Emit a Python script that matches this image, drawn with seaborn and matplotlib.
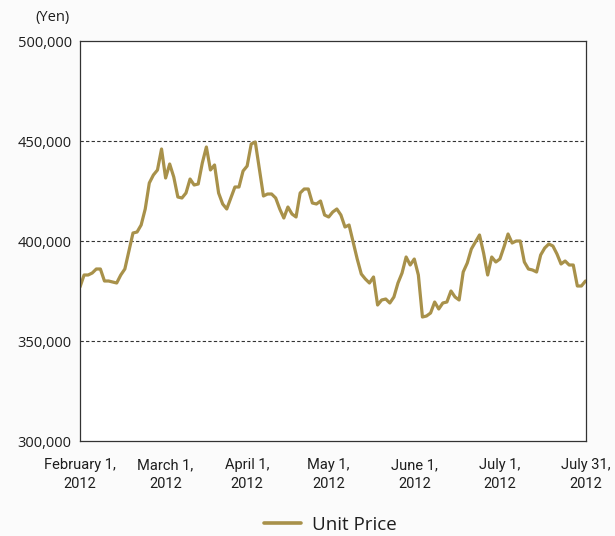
import matplotlib
matplotlib.use("Agg")
import matplotlib.pyplot as plt
import seaborn as sns
import pandas as pd
from matplotlib.ticker import FuncFormatter
from matplotlib.lines import Line2D

# Daily unit price (yen, thousands), trading days Feb 1 - Jul 31, 2012
unit_price_k = [
    377, 383, 383, 384, 386, 386, 380, 380, 379.5, 379,
    383, 386, 395, 404, 404.5, 408, 416, 429, 433, 435.5,
    446, 431.5, 438.5, 432, 422, 421.5, 424, 431, 428, 428.5,
    439, 447, 435.5, 438, 424, 418.5, 416, 421.5, 427, 427,
    435, 437.5, 448.5, 449.5, 436, 422.5, 423.5, 423.5, 421.5, 416,
    411.5, 417, 413.5, 412, 424, 426, 426, 419, 418.5, 420,
    413, 412, 414.5, 416, 413, 407, 408, 399.5, 391, 383.5,
    381, 379, 382, 368, 370.5, 371, 369, 372, 379, 384,
    392, 388, 391, 383, 362, 362.5, 364, 369.5, 366, 369,
    369.5, 375, 372, 370.5, 384.5, 389, 396, 399.5, 403, 394,
    383, 392, 389.5, 391, 397, 403.5, 399, 400, 400, 389.5,
    386, 385.5, 384.5, 393, 396.5, 398.5, 397.5, 393.5, 388.5, 390,
    388, 388, 377.5, 377.5, 380,
]
tick_day_index = [0, 21, 41, 61, 82, 103, 124]
tick_dates = ["February 1,", "March 1,", "April 1,", "May 1,", "June 1,", "July 1,", "July 31,"]
tick_years = ["2012"] * 7
y_ticks = [300000, 350000, 400000, 450000, 500000]
series_name = "Unit Price"

df = pd.DataFrame({
    "day": range(len(unit_price_k)),
    "price": [v * 1000 for v in unit_price_k],
    "series": series_name,
})

LINE = "#a8914a"
TXT = "#1e1e1e"

sns.set_theme(style="white")
plt.rcParams["font.family"] = ["Open Sans", "DejaVu Sans"]

fig = plt.figure(figsize=(6.15, 5.36), dpi=100, facecolor="#fbfbfb")
ax = fig.add_axes([80 / 615, 1 - 441 / 536, 505.5 / 615, 400 / 536])
ax.set_facecolor("white")

sns.lineplot(data=df, x="day", y="price", hue="series",
             palette=[LINE], linewidth=2.3, ax=ax, legend=False)

ax.set_xlim(0, len(unit_price_k) - 1)
ax.set_ylim(y_ticks[0], y_ticks[-1])
ax.set_yticks(y_ticks)
ax.yaxis.set_major_formatter(FuncFormatter(lambda v, p: f"{int(v):,}"))
ax.set_xticks(tick_day_index)
ax.set_xticklabels([""] * len(tick_day_index))
ax.tick_params(axis="x", direction="in", length=4, width=0.8, color="#222222")
ax.tick_params(axis="y", length=0, pad=6, labelsize=10.5, labelcolor=TXT)

narrow = ["Roboto", "Open Sans", "DejaVu Sans"]
for xi, d, yr in zip(tick_day_index, tick_dates, tick_years):
    ax.annotate(d, xy=(xi, 0), xycoords=("data", "axes fraction"),
                xytext=(0, -28 * 0.72), textcoords="offset points",
                ha="center", va="baseline", fontsize=10.5, color=TXT, family=narrow)
    ax.annotate(yr, xy=(xi, 0), xycoords=("data", "axes fraction"),
                xytext=(0, -47 * 0.72), textcoords="offset points",
                ha="center", va="baseline", fontsize=10.5, color=TXT, family=narrow)

for yv in y_ticks[1:-1]:
    ax.axhline(yv, color="#333333", linestyle=(0, (3, 2)), linewidth=0.8, zorder=0)

for s in ax.spines.values():
    s.set_visible(True)
    s.set_color("#333333")
    s.set_linewidth(0.9)

ax.set_xlabel("")
ax.set_ylabel("")
fig.text(70 / 615, 1 - 18 / 536, "(Yen)", ha="right", va="center", fontsize=10.5, color=TXT)

handle = Line2D([0], [0], color=LINE, linewidth=2.6)
fig.legend([handle], [series_name], loc="center", bbox_to_anchor=(0.537, 1 - 525 / 536),
           frameon=False, fontsize=13.5, handlelength=2.0, handletextpad=0.6,
           labelcolor=TXT, borderpad=0.2)

fig.savefig("out.png", dpi=100, facecolor=fig.get_facecolor())
